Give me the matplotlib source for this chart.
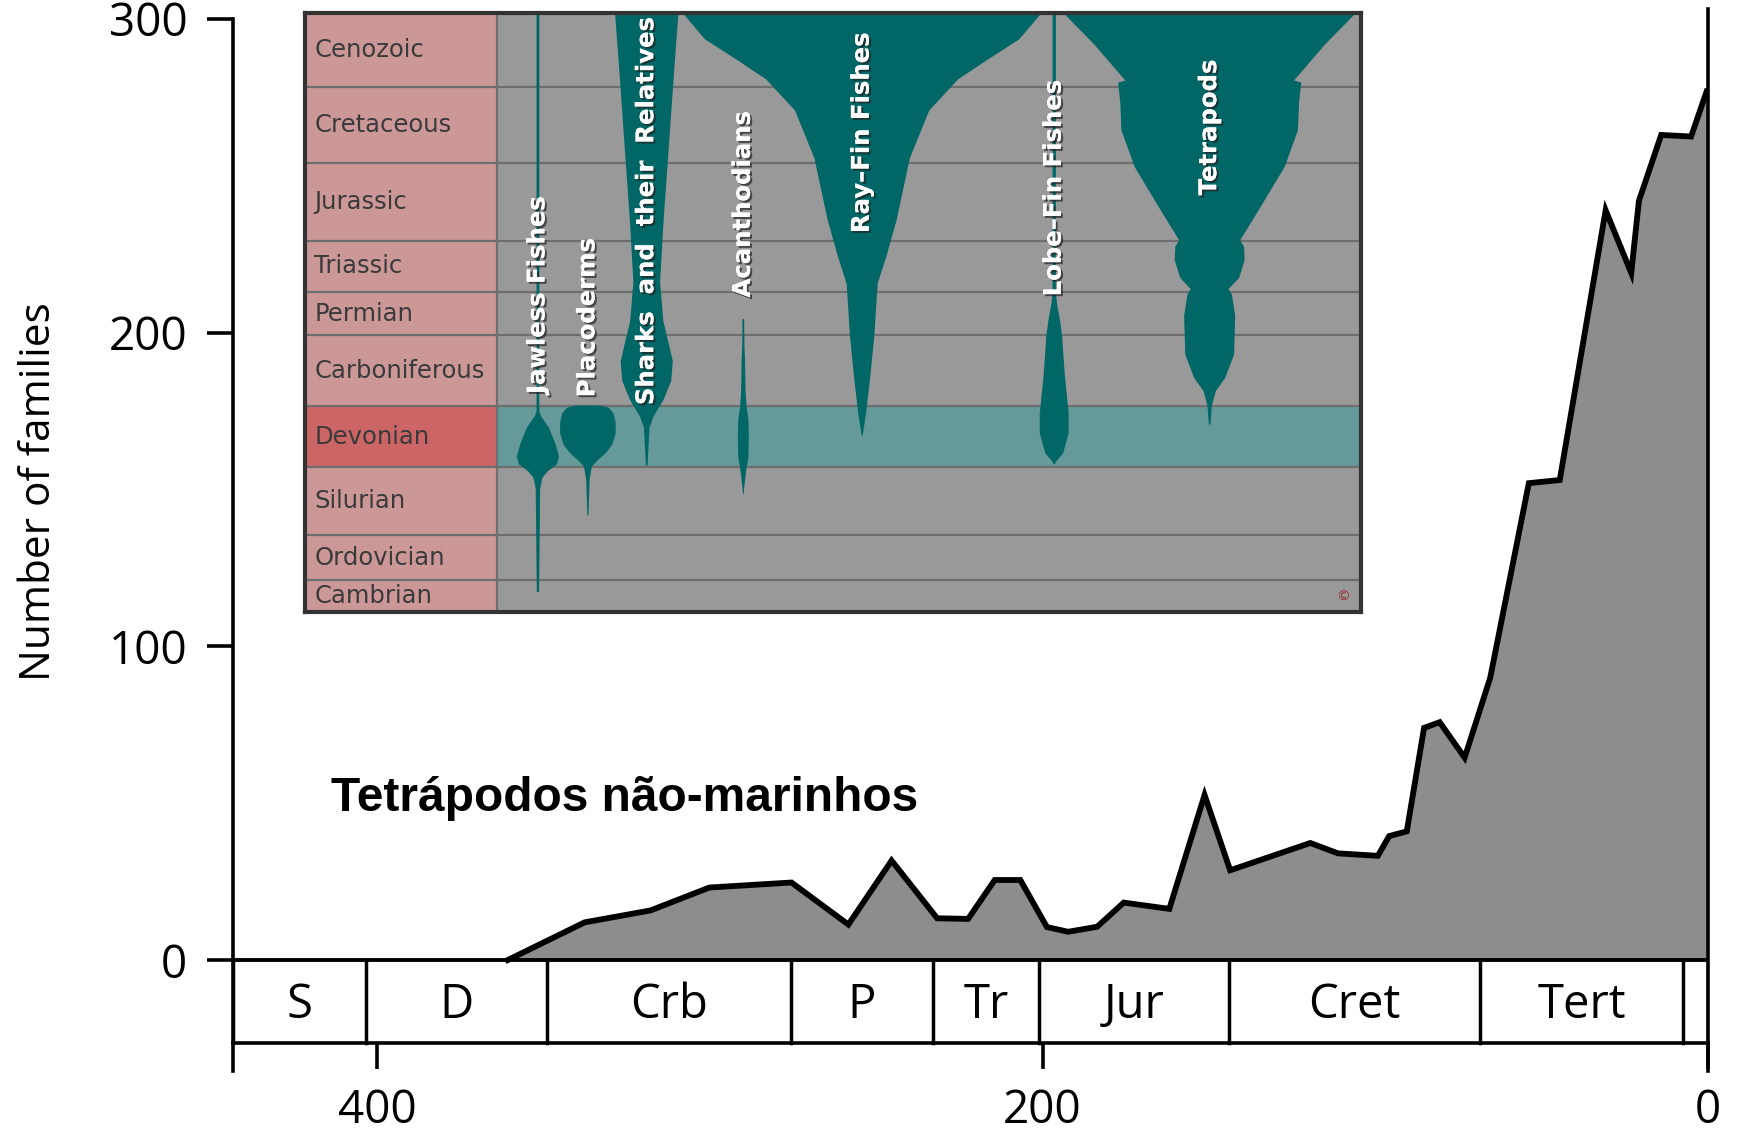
import matplotlib
matplotlib.use("Agg")
import numpy as np
import matplotlib.pyplot as plt
import matplotlib.patheffects as pe
from matplotlib.patches import Rectangle

# ---- main chart data (age in My, number of families) ----
ages = [360.8, 337.7, 317.9, 300.2, 275.5, 258.4, 245.4, 231.7, 222.4, 214.4,
        206.7, 198.7, 192.3, 183.6, 175.6, 161.9, 151.3, 143.6, 119.5, 111.2,
        99.2, 95.8, 90.5, 85.3, 80.6, 73.1, 65.4, 53.8, 44.5, 30.7,
        23.0, 20.7, 14.0, 5.0, 0.3, 0.0]
families = [0, 12, 15.8, 23.1, 24.7, 11.3, 31.7, 13.3, 13.1, 25.5,
            25.5, 10.5, 9, 10.6, 18.3, 16.3, 52.6, 28.6, 37.3, 34,
            33.2, 39.5, 41, 74, 75.8, 64.5, 90, 152, 153, 239,
            219, 242, 263, 262.5, 277, 277]

period_names = ["S", "D", "Crb", "P", "Tr", "Jur", "Cret", "Tert", ""]
period_bounds = [443.4, 403.3, 349.0, 275.8, 233.0, 201.0, 144.0, 68.4, 7.3, 0.0]

y_ticks = [0, 100, 200, 300]
x_ticks = [400, 200, 0]

# ---- inset (spindle diagram) data ----
rows = ["Cenozoic", "Cretaceous", "Jurassic", "Triassic", "Permian",
        "Carboniferous", "Devonian", "Silurian", "Ordovician", "Cambrian"]
row_edges = [0, 66, 135, 205, 251, 290, 354, 409, 470, 511, 539]

jawless_depth = [0, 358, 362, 373, 388, 399, 406, 412, 418, 428, 521]
jawless_width = [2.5, 2.5, 5, 20, 32, 38, 34, 18, 8, 4, 2]
placo_depth = [353, 355, 360, 368, 378, 388, 396, 402, 408, 420, 452]
placo_width = [24, 38, 46, 50, 50, 44, 32, 18, 7, 3, 1]
shark_depth = [0, 47, 118, 189, 242, 277, 313, 331, 348, 363, 373, 407]
shark_width = [57, 50, 40, 30, 24, 30, 47, 44, 30, 12, 5, 1.5]
acan_depth = [275, 300, 310, 340, 355, 365, 380, 400, 412, 425, 433]
acan_width = [1.5, 2, 3, 4, 6, 9, 10, 9, 5, 2, 0.5]
ray_depth = [0, 23, 41, 59, 87, 130, 186, 218, 243, 258, 290, 330, 360, 380]
ray_width = [322, 283, 227, 173, 121, 86, 62, 44, 28, 26, 22, 14, 7, 1]
lobe_depth = [0, 250, 261, 275, 289, 325, 360, 378, 396, 403, 406]
lobe_width = [3, 3, 5, 10, 14, 19, 26, 26, 16, 4, 0.5]
tetra_depth = [0, 27, 60, 62, 80, 105, 138, 173, 204, 210, 222, 238, 248,
               253, 272, 307, 328, 340, 353, 370]
tetra_width = [262, 209, 152, 165, 161, 159, 135, 93, 55, 62, 63, 53, 34,
               40, 46, 44, 28, 11, 4, 1.5]

clades = [
    ("Jawless Fishes", 209, 343, jawless_depth, jawless_width),
    ("Placoderms", 254, 346, placo_depth, placo_width),
    ("Sharks  and  their  Relatives", 307, 353, shark_depth, shark_width),
    ("Acanthodians", 394, 256, acan_depth, acan_width),
    ("Ray\u2013Fin Fishes", 501, 198, ray_depth, ray_width),
    ("Lobe\u2013Fin Fishes", 674, 255, lobe_depth, lobe_width),
    ("Tetrapods", 814, 164, tetra_depth, tetra_width),
]

main_font = "Open Sans"

fig = plt.figure(figsize=(17.41, 11.31), dpi=100)
fig.patch.set_facecolor("white")

ax = fig.add_axes([0.1339, 0.0530, 0.8470, 0.9303])
ax.set_facecolor("none")
ax.set_xlim(443.4, 0)
ax.set_ylim(-35.4, 300)

ax.fill_between(ages, families, 0, color="#8d8d8d", lw=0, zorder=1)
ax.plot(ages, families, color="black", lw=4.2, solid_joinstyle="miter", zorder=3)
ax.plot([period_bounds[0], 0], [0, 0], color="black", lw=2.8, zorder=3)

# period box
box_bottom = -26.5
for b in period_bounds:
    ax.plot([b, b], [box_bottom, 0], color="black", lw=2.5, zorder=3)
for name, a, b in zip(period_names, period_bounds[:-1], period_bounds[1:]):
    ax.text((a + b) / 2, -14.5, name, ha="center", va="center",
            fontsize=34, family=main_font)

ax.spines["top"].set_visible(False)
ax.spines["left"].set_bounds(-35.4, 300)
ax.spines["right"].set_bounds(-35.4, 303)
ax.spines["bottom"].set_position(("data", box_bottom))
ax.spines["bottom"].set_bounds(443.4, 0)
for s in ["left", "right", "bottom"]:
    ax.spines[s].set_linewidth(2.6)

ax.set_yticks(y_ticks)
ax.set_yticklabels([str(v) for v in y_ticks], family=main_font, fontsize=33)
ax.set_xticks(x_ticks)
ax.set_xticklabels([str(v) for v in x_ticks], family=main_font, fontsize=33)
ax.tick_params(axis="y", direction="out", length=19, width=2.6, pad=14)
ax.tick_params(axis="x", direction="out", length=19, width=2.6, pad=13)

fig.text(35 / 1568, 1 - 443 / 1019, "Number of families", rotation=90,
         ha="center", va="center", fontsize=30.5, family=main_font)
fig.text(298 / 1568, 1 - 719 / 1019, "Tetr\u00e1podos n\u00e3o-marinhos",
         ha="left", va="center", fontsize=34.5, fontweight="bold",
         family="Liberation Sans")

# ---- inset ----
ax2 = fig.add_axes([0.1754, 0.4593, 0.6065, 0.5289])
ax2.set_xlim(0, 951)
ax2.set_ylim(539, 0)
ax2.set_xticks([])
ax2.set_yticks([])
for s in ax2.spines.values():
    s.set_linewidth(3)
    s.set_color("#333333")

label_w = 173
ax2.add_patch(Rectangle((0, 0), label_w, 539, color="#cc9797", lw=0, zorder=0))
ax2.add_patch(Rectangle((label_w, 0), 951 - label_w, 539, color="#999999", lw=0, zorder=0))
dev = rows.index("Devonian")
ax2.add_patch(Rectangle((0, row_edges[dev]), label_w,
                        row_edges[dev + 1] - row_edges[dev], color="#cc6666", lw=0, zorder=0))
ax2.add_patch(Rectangle((label_w, row_edges[dev]), 951 - label_w,
                        row_edges[dev + 1] - row_edges[dev], color="#669999", lw=0, zorder=0))
for e in row_edges[1:-1]:
    ax2.axhline(e, color="#6e6e6e", lw=1.6, zorder=1)
ax2.axvline(label_w, color="#6e6e6e", lw=1.6, zorder=1)

for name, top, bot in zip(rows, row_edges[:-1], row_edges[1:]):
    ax2.text(8, (top + bot) / 2, name, ha="left", va="center",
             fontsize=17.5, color="#3a3a3a", family="DejaVu Sans")

teal = "#006666"
for name, cx, lab_y, depth, width in clades:
    d = np.array(depth, dtype=float)
    w = np.array(width, dtype=float)
    ax2.fill_betweenx(d, cx - w / 2, cx + w / 2, color=teal, lw=0, zorder=2)

for name, cx, lab_y, depth, width in clades:
    ax2.text(cx, lab_y, name, rotation=90, ha="center", va="bottom",
             fontsize=17.5, fontweight="bold", color="white", family="DejaVu Sans",
             zorder=4,
             path_effects=[pe.withSimplePatchShadow(offset=(1.5, -1.5),
                                                    shadow_rgbFace="#222222",
                                                    alpha=0.7),
                           pe.Normal()])

ax2.text(935, 526, "\u00a9", ha="center", va="center", fontsize=10,
         color="#993333", zorder=4)

fig.savefig("out.png", dpi=100)
